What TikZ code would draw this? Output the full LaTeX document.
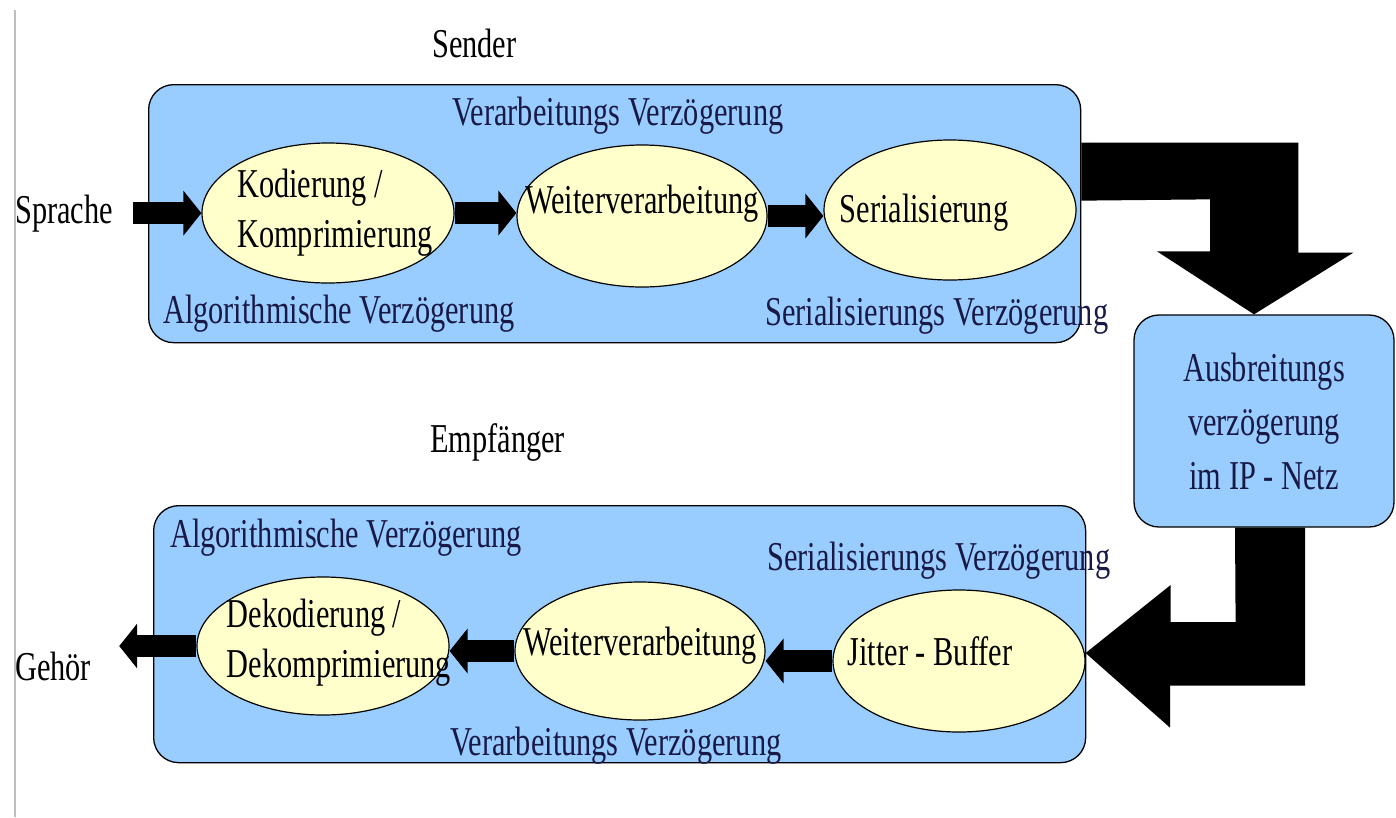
\documentclass[tikz,border=0pt]{standalone}
\usepackage{fontspec}
\setmainfont{Liberation Serif}[FakeStretch=0.74]
\usetikzlibrary{shapes.geometric,arrows.meta,positioning,calc}
\definecolor{boxblue}{RGB}{153,204,255}
\definecolor{stageyellow}{RGB}{255,255,204}
\definecolor{notecol}{RGB}{25,25,70}

\begin{document}
\begin{tikzpicture}[x=1pt,y=-1pt,
  every node/.style={font=\fontsize{41pt}{50pt}\selectfont},
  panel/.style={draw,fill=boxblue,rounded corners=25pt,line width=1.3pt,inner sep=0,minimum width=932pt},
  stage/.style={ellipse,draw,fill=stageyellow,line width=1.2pt,inner sep=0,minimum width=252pt,minimum height=140pt},
  stagetext/.style={align=left,inner sep=0},
  note/.style={anchor=base west,inner sep=0,text=notecol},
  word/.style={anchor=base west,inner sep=0},
  flow/.style={line width=22pt,-{Triangle[length=18pt,width=44pt]}}]
\useasboundingbox (0,0) rectangle (1396,817);
\draw[black!25,line width=2pt] (15,10) -- (15,817);

% sender and receiver panels
\node[panel,minimum height=258pt,anchor=north west] (sendbox) at (148,84) {};
\node[panel,minimum height=257pt,anchor=north west] (recvbox) at (153,505) {};
\node[panel,minimum width=260pt,minimum height=212pt,align=center,text=notecol,
  font=\fontsize{41pt}{54pt}\selectfont] (netz) at (1264,421) {Ausbreitungs\\verzögerung\\im IP - Netz};

\node[word] (sender) at (432,57) {Sender};
\node[word] (empf) at (430,452) {Empfänger};
\node[word] (sprache) at (15,223) {Sprache};
\node[word] (gehoer) at (15,680) {Gehör};

\node[note] (procA) at (452,125) {Verarbeitungs Verzögerung};
\node[note] (algA) at (163,323) {Algorithmische Verzögerung};
\node[note] (serA) at (765,325) {Serialisierungs Verzögerung};
\node[note] (algB) at (170,547) {Algorithmische Verzögerung};
\node[note] (serB) at (767,570) {Serialisierungs Verzögerung};
\node[note] (procB) at (450,755) {Verarbeitungs Verzögerung};

% processing stages
\node[stage,label={[stagetext,xshift=7pt]center:{Kodierung /\\Komprimierung}}] (kod) at (328,213) {};
\node[stage,minimum width=250pt,minimum height=142pt,
  label={[stagetext,yshift=12pt]center:Weiterverarbeitung}] (weiterA) at (642,216) {};
\node[stage,label={[stagetext,xshift=-26pt,yshift=-3pt]center:Serialisierung}] (ser) at (950,210) {};
\node[stage,minimum height=138pt,
  label={[stagetext,xshift=16pt,yshift=3.5pt]center:{Dekodierung /\\Dekomprimierung}}] (dekod) at (323,646) {};
\node[stage,minimum width=250pt,minimum height=138pt,
  label={[stagetext,yshift=5pt]center:Weiterverarbeitung}] (weiterB) at (640,651) {};
\node[stage,minimum height=142pt,
  label={[stagetext,xshift=-29pt,yshift=10pt]center:Jitter - Buffer}] (jitter) at (959,661) {};

% small flows
\draw[flow,shorten <=20pt] (sprache.east) -- (sprache.east -| kod.west);
\draw[flow] (kod.east) -- (kod.east -| weiterA.west);
\draw[flow] (weiterA.east) -- (weiterA.east -| ser.west);
\draw[flow] (jitter.west) -- (jitter.west -| weiterB.east);
\draw[flow] (weiterB.west) -- (weiterB.west -| dekod.east);
\draw[flow,shorten >=28pt] (dekod.west) -- (dekod.west -| gehoer.east);

% block arrows through the network
\fill ([yshift=71pt]sendbox.east) -- ++(217,0) -- ++(0,110) -- ++(55,0)
  -- ([xshift=-10pt]netz.north) -- ++(-97,-63) -- ++(53,0) -- ++(0,-52)
  -- ([yshift=13pt]sendbox.east) -- cycle;
\fill ([xshift=-29pt]netz.south) -- ++(70,0) -- ++(0,158) -- ++(-135,0) -- ++(0,42)
  -- ([yshift=8pt]jitter.east) -- ++(85,-68) -- ++(0,37) -- ++(65,0) -- cycle;
\end{tikzpicture}
\end{document}
